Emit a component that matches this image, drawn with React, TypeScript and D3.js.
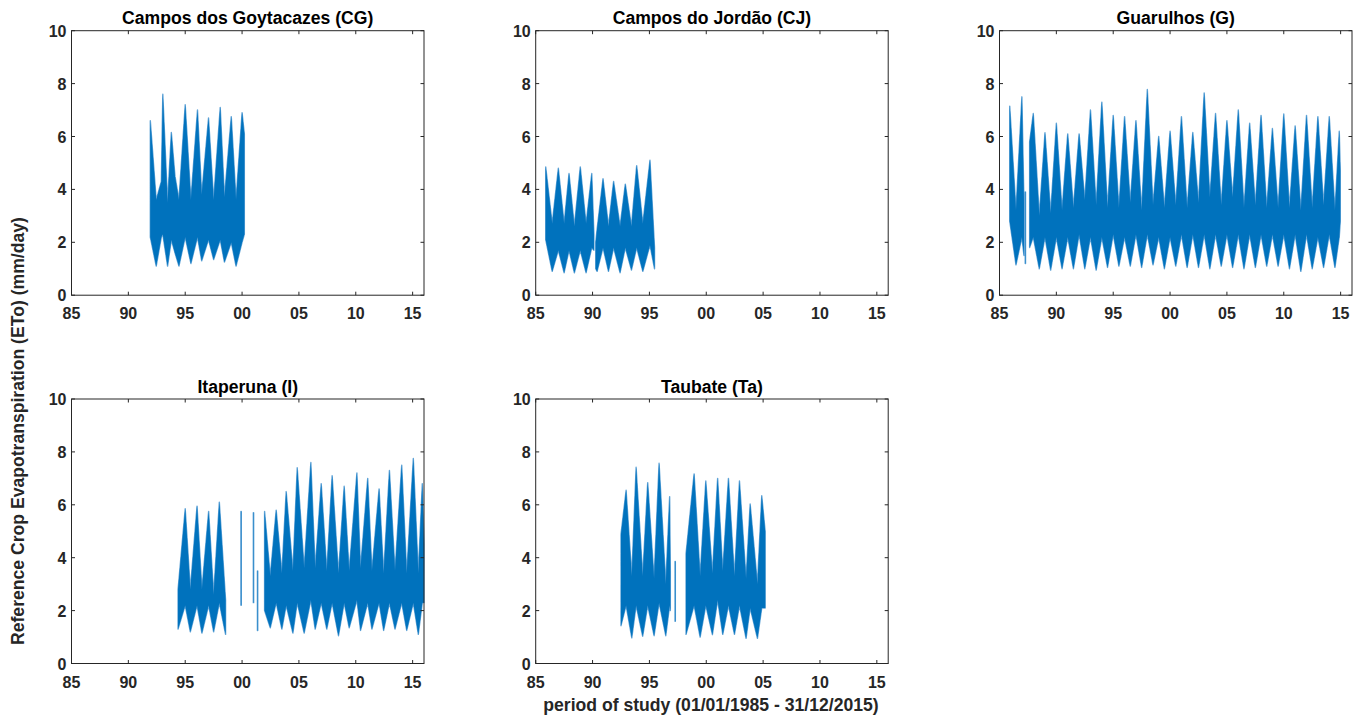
import React from "react";
import * as d3 from "d3";

// ---------------- data ----------------
// Each station: time (decimal year), upper envelope (hi) and lower envelope (lo) of daily ETo, mm/day.
// NaN entries mark gaps in the record.
const cgT = [1991.93, 1992.45, 1992.9, 1993.03, 1993.45, 1993.78, 1994.1, 1994.45, 1995.0, 1995.5, 1996.08, 1996.45, 1997.05, 1997.5, 1998.08, 1998.45, 1999.05, 1999.47, 2000.0, 2000.2];
const cgHi = [6.6, 3.6, 4.3, 7.6, 3.5, 6.15, 4.5, 3.6, 7.2, 3.6, 7.0, 3.8, 6.7, 3.6, 7.1, 3.7, 6.75, 3.6, 6.9, 6.1];
const cgLo = [2.2, 1.1, 2.2, 2.3, 1.1, 2.1, 1.6, 1.1, 2.2, 1.2, 2.2, 1.3, 2.1, 1.35, 2.1, 1.25, 2.0, 1.1, 2.0, 2.3];

const cjT = [1985.88, 1986.45, 1986.99, 1987.5, 1987.93, 1988.4, 1988.92, 1989.43, 1989.93, 1990.12, 1990.2, 1990.28, 1990.4, 1990.92, 1991.4, 1991.85, 1992.42, 1992.88, 1993.42, 1993.88, 1994.42, 1995.05, 1995.45];
const cjHi = [4.85, 2.7, 4.8, 2.7, 4.6, 2.6, 4.85, 2.7, 4.6, 2.3, NaN, 2.0, 2.5, 4.4, 2.6, 4.3, 2.6, 4.2, 2.6, 4.9, 2.7, 5.1, 1.8];
const cjLo = [2.1, 0.9, 1.7, 0.85, 1.7, 0.85, 1.7, 0.85, 1.8, 1.7, NaN, 1.0, 0.9, 1.8, 0.9, 1.8, 0.85, 1.8, 0.95, 1.8, 0.9, 1.9, 1.0];

const gT = [1985.9, 1986.45, 1986.97, 1987.15, 1987.2, 1987.26, 1987.29, 1987.4, 1987.65, 1987.97, 1988.5, 1989.0, 1989.5, 1990.0, 1990.5, 1991.0, 1991.5, 1992.0, 1992.5, 1993.0, 1993.5, 1994.0, 1994.5, 1995.0, 1995.5, 1996.0, 1996.5, 1997.0, 1997.5, 1998.0, 1998.5, 1999.0, 1999.5, 2000.0, 2000.5, 2001.0, 2001.5, 2002.0, 2002.5, 2003.0, 2003.5, 2004.0, 2004.5, 2005.0, 2005.5, 2006.0, 2006.5, 2007.0, 2007.5, 2008.0, 2008.5, 2009.0, 2009.5, 2010.0, 2010.5, 2011.0, 2011.5, 2012.0, 2012.5, 2013.0, 2013.5, 2014.0, 2014.5, 2014.88, 2014.97];
const gHi = [7.15, 3.2, 7.5, 3.5, NaN, 3.9, 3.9, NaN, 5.8, 6.87, 3.0, 6.14, 3.1, 6.5, 3.2, 6.1, 3.3, 6.1, 3.6, 7.0, 3.4, 7.3, 3.3, 6.8, 3.3, 6.75, 3.5, 6.6, 3.2, 7.78, 3.4, 6.0, 3.3, 6.2, 3.4, 6.75, 3.3, 6.15, 3.5, 7.65, 3.7, 6.87, 3.4, 6.6, 3.7, 7.0, 3.3, 6.5, 3.4, 6.8, 3.3, 6.3, 3.3, 6.85, 3.3, 6.4, 3.2, 6.8, 3.3, 6.75, 3.4, 6.75, 3.2, 6.2, 4.7];
const gLo = [2.8, 1.15, 2.2, 1.5, NaN, 1.2, 1.2, NaN, 1.8, 2.2, 1.0, 2.2, 0.95, 2.2, 1.0, 2.2, 1.0, 2.3, 1.0, 2.2, 0.95, 2.2, 1.05, 2.3, 1.1, 2.2, 1.1, 2.3, 1.05, 2.3, 1.15, 2.2, 1.0, 2.2, 1.1, 2.3, 1.05, 2.3, 1.05, 2.3, 1.0, 2.3, 1.1, 2.3, 1.05, 2.3, 1.0, 2.3, 1.05, 2.3, 1.1, 2.3, 1.1, 2.3, 1.0, 2.3, 0.9, 2.3, 1.0, 2.2, 1.05, 2.3, 1.05, 2.2, 2.8];

const iT = [1994.37, 1995.0, 1995.45, 1996.04, 1996.47, 1997.06, 1997.5, 1998.0, 1998.55, 1999.5, 1999.9, 1999.93, 2000.5, 2000.99, 2001.02, 2001.2, 2001.35, 2001.38, 2001.7, 2001.98, 2002.48, 2003.0, 2003.5, 2003.88, 2004.47, 2004.85, 2005.46, 2006.05, 2006.43, 2006.96, 2007.45, 2007.92, 2008.48, 2008.98, 2009.42, 2010.1, 2010.42, 2011.05, 2011.42, 2012.05, 2012.45, 2012.96, 2013.45, 2014.04, 2014.48, 2015.06, 2015.5, 2015.85, 2016.0];
const iHi = [2.8, 5.85, 2.8, 5.95, 2.8, 5.75, 2.6, 6.1, 2.4, NaN, 5.75, 5.75, NaN, 5.7, 5.7, NaN, 3.5, 3.5, NaN, 5.75, 3.3, 5.8, 3.4, 6.5, 3.5, 7.4, 3.6, 7.6, 3.6, 6.8, 3.5, 7.1, 3.4, 6.7, 3.5, 7.2, 3.6, 7.0, 3.5, 6.6, 3.4, 7.3, 3.5, 7.5, 3.4, 7.75, 3.4, 6.8, 4.5];
const iLo = [1.3, 2.2, 1.2, 2.2, 1.15, 2.2, 1.2, 2.3, 1.1, NaN, 2.2, 2.2, NaN, 2.3, 2.3, NaN, 1.25, 1.25, NaN, 2.0, 1.35, 2.3, 1.3, 2.2, 1.15, 2.3, 1.15, 2.4, 1.3, 2.3, 1.3, 2.3, 1.05, 2.3, 1.35, 2.4, 1.25, 2.3, 1.3, 2.3, 1.25, 2.3, 1.3, 2.3, 1.25, 2.3, 1.1, 2.3, 2.3];

const taT = [1992.5, 1992.95, 1993.45, 1993.83, 1994.41, 1994.85, 1995.41, 1995.85, 1996.44, 1996.78, 1996.84, 1997.0, 1997.25, 1997.28, 1997.7, 1998.22, 1998.93, 1999.46, 1999.96, 2000.54, 2001.0, 2001.45, 2001.95, 2002.48, 2002.92, 2003.5, 2003.86, 2004.5, 2004.88, 2005.18];
const taHi = [4.88, 6.55, 3.3, 7.42, 3.3, 6.84, 3.2, 7.57, 3.0, 6.31, 3.5, NaN, 3.86, 3.86, NaN, 4.15, 7.17, 3.3, 6.9, 3.4, 7.0, 3.5, 7.0, 3.3, 6.9, 3.2, 6.03, 3.0, 6.34, 5.0];
const taLo = [1.43, 2.2, 0.97, 2.2, 1.03, 2.2, 1.05, 2.3, 1.05, 2.2, 2.0, NaN, 1.6, 1.6, NaN, 1.1, 2.2, 1.0, 2.2, 1.09, 2.4, 1.1, 2.2, 1.1, 2.2, 0.95, 2.1, 0.95, 2.1, 2.1];

const stationTitles = ["Campos dos Goytacazes (CG)", "Campos do Jordão (CJ)", "Guarulhos (G)", "Itaperuna (I)", "Taubate (Ta)"];
const xTicks = [1985, 1990, 1995, 2000, 2005, 2010, 2015];
const yTicks = [0, 2, 4, 6, 8, 10];
const xDomain = [1985, 2016];
const yDomain = [0, 10];
const yLabel = "Reference Crop Evapotranspiration (ETo) (mm/day)";
const xLabel = "period of study (01/01/1985 - 31/12/2015)";

const series = [
  { t: cgT, hi: cgHi, lo: cgLo },
  { t: cjT, hi: cjHi, lo: cjLo },
  { t: gT, hi: gHi, lo: gLo },
  { t: iT, hi: iHi, lo: iLo },
  { t: taT, hi: taHi, lo: taLo },
];

// ---------------- layout ----------------
const W = 1365;
const H = 720;
const colLeft = [71.5, 535.7, 999.5];
const rowTop = [30.7, 399];
const pw = 352.5;
const ph = 264.5;
const FONT = "'Liberation Sans', Arial, Helvetica, sans-serif";
const BLUE = "#0072BD";
const EDGE = "#4a97d1";
const AX = "#262626";

function Panel({ idx }: { idx: number }) {
  const col = idx % 3;
  const row = Math.floor(idx / 3);
  const left = colLeft[col];
  const top = rowTop[row];
  const x = d3.scaleLinear().domain(xDomain).range([left, left + pw]);
  const y = d3.scaleLinear().domain(yDomain).range([top + ph, top]);
  const s = series[idx];
  const idxs = d3.range(s.t.length);
  const area = d3
    .area<number>()
    .defined((i) => !isNaN(s.hi[i]))
    .x((i) => x(s.t[i]))
    .y0((i) => y(s.lo[i]))
    .y1((i) => y(s.hi[i]));
  const d = area(idxs) || "";
  const tl = 3.5;
  const bottom = top + ph;
  const right = left + pw;
  return (
    <g>
      <rect x={left} y={top} width={pw} height={ph} fill="#fff" />
      <path d={d} fill={BLUE} stroke={EDGE} strokeWidth={1.4} strokeOpacity={0.85} strokeLinejoin="round" />
      <path d={d} fill={BLUE} stroke="none" />
      {xTicks.map((v) => (
        <g key={"xt" + v}>
          <line x1={x(v)} x2={x(v)} y1={bottom} y2={bottom - tl} stroke={AX} strokeWidth={1} />
          <line x1={x(v)} x2={x(v)} y1={top} y2={top + tl} stroke={AX} strokeWidth={1} />
          <text x={x(v)} y={bottom + 24} textAnchor="middle" fontFamily={FONT} fontWeight="bold" fontSize={16} fill={AX}>
            {String(v % 100).padStart(2, "0")}
          </text>
        </g>
      ))}
      {yTicks.map((v) => (
        <g key={"yt" + v}>
          <line x1={left} x2={left + tl} y1={y(v)} y2={y(v)} stroke={AX} strokeWidth={1} />
          <line x1={right} x2={right - tl} y1={y(v)} y2={y(v)} stroke={AX} strokeWidth={1} />
          <text x={left - 5} y={y(v) + 6} textAnchor="end" fontFamily={FONT} fontWeight="bold" fontSize={16} fill={AX}>
            {v}
          </text>
        </g>
      ))}
      <rect x={left} y={top} width={pw} height={ph} fill="none" stroke={AX} strokeWidth={1} />
      <text x={left + pw / 2} y={top - 6.5} textAnchor="middle" fontFamily={FONT} fontWeight="bold" fontSize={17.6} fill="#000">
        {stationTitles[idx]}
      </text>
    </g>
  );
}

export default function App() {
  return (
    <svg
      width={W}
      height={H}
      viewBox={`0 0 ${W} ${H}`}
      style={{ position: "absolute", left: 0, top: 0, background: "#fff" }}
    >
      <rect x={0} y={0} width={W} height={H} fill="#fff" />
      {series.map((_, i) => (
        <Panel key={i} idx={i} />
      ))}
      <text
        transform="translate(24,645) rotate(-90)"
        textAnchor="start"
        fontFamily={FONT}
        fontWeight="bold"
        fontSize={17.6}
        fill={AX}
      >
        {yLabel}
      </text>
      <text x={711} y={711} textAnchor="middle" fontFamily={FONT} fontWeight="bold" fontSize={17.6} fill={AX}>
        {xLabel}
      </text>
    </svg>
  );
}
